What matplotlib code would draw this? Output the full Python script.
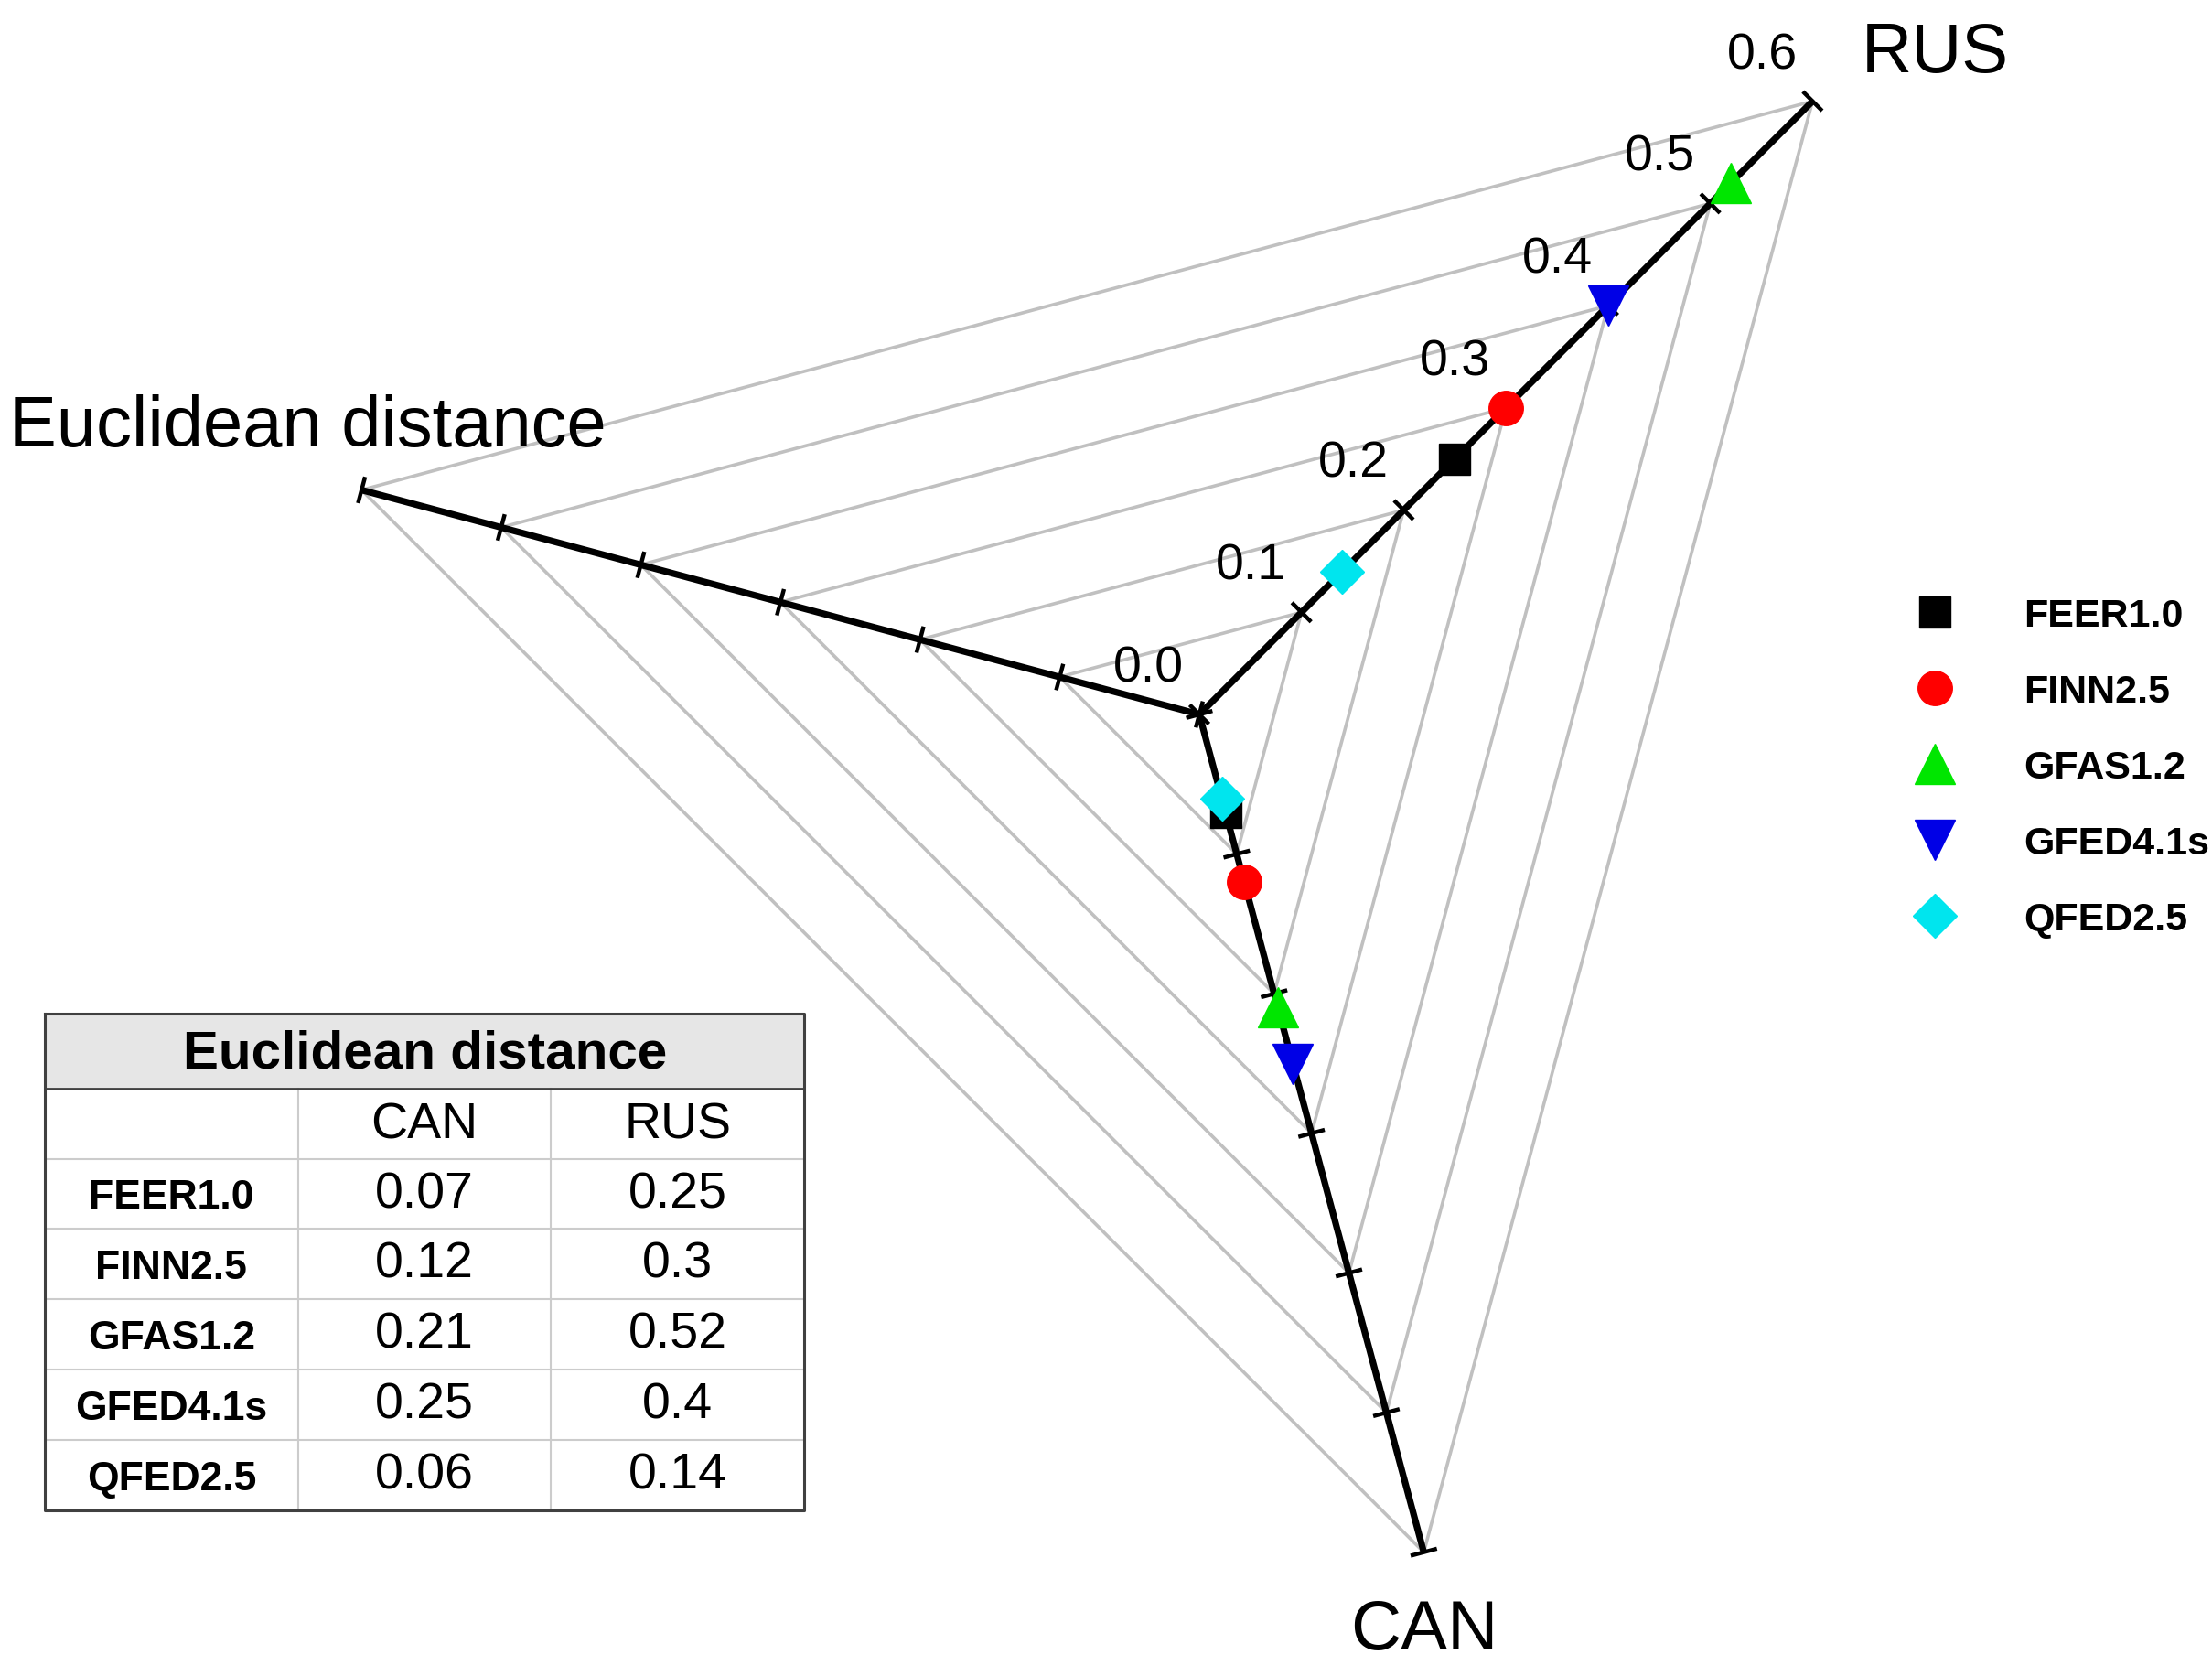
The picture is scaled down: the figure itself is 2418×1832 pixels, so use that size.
import numpy as np
import matplotlib.pyplot as plt

plt.rcParams['font.family'] = ['Liberation Sans', 'DejaVu Sans']

# data
models = ['FEER1.0', 'FINN2.5', 'GFAS1.2', 'GFED4.1s', 'QFED2.5']
can = [0.07, 0.12, 0.21, 0.25, 0.06]
rus = [0.25, 0.3, 0.52, 0.4, 0.14]
markers = ['s', 'o', '^', 'v', 'D']
msizes = [24, 27, 31, 31, 24]
colors = ['#000000', '#ff0000', '#00e600', '#0000e6', '#00e5ee']

axis_names = ['RUS', 'Euclidean distance', 'CAN']
axis_angles = [45, 165, 285]
levels = [0.0, 0.1, 0.2, 0.3, 0.4, 0.5, 0.6]
level_labels = ['0.0', '0.1', '0.2', '0.3', '0.4', '0.5', '0.6']

dirs = [np.array([np.cos(np.radians(a)), np.sin(np.radians(a))]) for a in axis_angles]

fig = plt.figure(figsize=(24.18, 18.33), dpi=100)
ax = fig.add_axes([0, 0, 1, 1])
ax.set_xlim(-0.8297, 0.7006)
ax.set_ylim(-0.6652, 0.4949)
ax.axis('off')

# triangular grid
for lv in levels[1:]:
    pts = [lv * d for d in dirs] + [lv * dirs[0]]
    xs, ys = zip(*pts)
    ax.plot(xs, ys, color='#c0c0c0', lw=2.6, zorder=1)

# spokes with ticks
rmax = levels[-1]
for d in dirs:
    ax.plot([0, rmax * d[0]], [0, rmax * d[1]], color='black', lw=5.2,
            solid_capstyle='butt', zorder=2)
    perp = np.array([-d[1], d[0]])
    for lv in levels:
        p = lv * d
        a, b = p - 0.008 * perp, p + 0.008 * perp
        ax.plot([a[0], b[0]], [a[1], b[1]], color='black', lw=3.2, zorder=2)

# tick labels along RUS spoke
off = np.array([-0.035, 0.032])
for lv, lab in zip(levels, level_labels):
    p = lv * dirs[0] + off
    ax.text(p[0], p[1], lab, fontsize=40, ha='center', va='center')

# axis titles
p = rmax * dirs[0]
ax.text(p[0] + 0.034, p[1] + 0.033, axis_names[0], fontsize=55, ha='left', va='center')
p = rmax * dirs[1]
ax.text(p[0] - 0.037, p[1] + 0.044, axis_names[1], fontsize=56, ha='center', va='center')
p = rmax * dirs[2]
ax.text(p[0], p[1] - 0.054, axis_names[2], fontsize=55, ha='center', va='center')

# points
for i, m in enumerate(models):
    pr = rus[i] * dirs[0]
    pc = can[i] * dirs[2]
    ax.plot([pr[0], pc[0]], [pr[1], pc[1]], ls='none', marker=markers[i],
            ms=msizes[i], color=colors[i], mec=colors[i], label=m, zorder=3)

leg = ax.legend(loc='upper left', bbox_to_anchor=(0.857, 0.655), frameon=False,
                prop={'weight': 'bold', 'size': 31}, handlelength=1.0,
                handletextpad=1.75, labelspacing=1.0, borderpad=0)

# table
tax = fig.add_axes([0.0203, 0.0987, 0.3433, 0.2962])
tax.set_xlim(0, 3)
tax.set_ylim(7.06, 0)
tax.axis('off')
tax.fill_between([0, 3], 0, 1.06, color='#e6e6e6', zorder=0)
for k in range(2, 7):
    tax.plot([0, 3], [k + 0.06, k + 0.06], color='#cccccc', lw=1.5)
for c in [1, 2]:
    tax.plot([c, c], [1.06, 7.06], color='#cccccc', lw=1.5)
tax.plot([0, 3], [1.06, 1.06], color='#404040', lw=2)
tax.plot([0, 3, 3, 0, 0], [0, 0, 7.06, 7.06, 0], color='#404040', lw=2.2, clip_on=False)
tax.text(1.5, 0.57, 'Euclidean distance', fontsize=42, weight='bold', ha='center', va='center')
tax.text(1.5, 1.58, 'CAN', fontsize=40, ha='center', va='center')
tax.text(2.5, 1.58, 'RUS', fontsize=40, ha='center', va='center')
for i, m in enumerate(models):
    y = 2.56 + i
    tax.text(0.5, y + 0.05, m, fontsize=32, weight='bold', ha='center', va='center')
    tax.text(1.5, y, f'{can[i]:g}', fontsize=40, ha='center', va='center')
    tax.text(2.5, y, f'{rus[i]:g}', fontsize=40, ha='center', va='center')

fig.savefig('out.png', dpi=100)
